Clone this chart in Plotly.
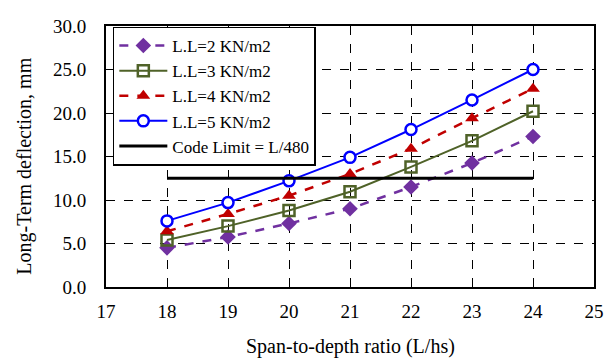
import plotly.graph_objects as go

span_ratio = [18, 19, 20, 21, 22, 23, 24]
ll2 = [4.5, 5.75, 7.3, 9.0, 11.5, 14.25, 17.3]
ll3 = [5.4, 7.0, 8.8, 10.95, 13.8, 16.8, 20.2]
ll4 = [6.4, 8.4, 10.5, 13.0, 15.9, 19.4, 22.8]
ll5 = [7.6, 9.7, 12.2, 14.9, 18.1, 21.5, 25.0]
code_x = [18, 24]
code_limit = [12.5, 12.5]
x_title = "Span-to-depth ratio (L/hs)"
y_title = "Long-Term deflection, mm"

FONT = "Liberation Serif, Times New Roman, serif"
fig = go.Figure()
fig.add_trace(go.Scatter(x=span_ratio, y=ll2, name="L.L=2 KN/m2", mode="lines+markers",
                         line=dict(color="#7030A0", width=2.5, dash="dash"),
                         marker=dict(symbol="diamond", size=12, color="#7030A0")))
fig.add_trace(go.Scatter(x=span_ratio, y=ll3, name="L.L=3 KN/m2", mode="lines+markers",
                         line=dict(color="#4F6228", width=2),
                         marker=dict(symbol="square-open", size=11, color="#4F6228", line=dict(width=2.5))))
fig.add_trace(go.Scatter(x=span_ratio, y=ll4, name="L.L=4 KN/m2", mode="lines+markers",
                         line=dict(color="#C00000", width=2.5, dash="dash"),
                         marker=dict(symbol="triangle-up", size=12, color="#C00000")))
fig.add_trace(go.Scatter(x=span_ratio, y=ll5, name="L.L=5 KN/m2", mode="lines+markers",
                         line=dict(color="#0000FF", width=2),
                         marker=dict(symbol="circle", size=11, color="white", line=dict(width=2.5, color="#0000FF"))))
fig.add_trace(go.Scatter(x=code_x, y=code_limit, name="Code Limit = L/480", mode="lines",
                         line=dict(color="black", width=3)))

fig.update_layout(
    width=604, height=354,
    margin=dict(l=98, r=11, t=8, b=75),
    paper_bgcolor="white", plot_bgcolor="white",
    font=dict(family=FONT, size=19, color="black"),
    legend=dict(x=0.014, y=0.998, xanchor="left", yanchor="top",
                bgcolor="white", bordercolor="black", borderwidth=1.5,
                font=dict(family=FONT, size=17), tracegroupgap=0, itemwidth=48),
    showlegend=True,
)
fig.add_annotation(text=x_title, xref="paper", yref="paper", x=0.5, y=0, yshift=-59,
                   xanchor="center", yanchor="middle", showarrow=False,
                   font=dict(family=FONT, size=20))
fig.add_annotation(text=y_title, xref="paper", yref="paper", x=0, y=0.461, xshift=-81,
                   xanchor="center", yanchor="middle", showarrow=False, textangle=-90,
                   font=dict(family=FONT, size=20))
fig.update_xaxes(range=[17, 25], dtick=1, tick0=17, showgrid=True, griddash="dash",
                 gridcolor="black", gridwidth=1, showline=True, linecolor="black", linewidth=2,
                 mirror=True, zeroline=False, ticks="", ticklen=0, ticklabelstandoff=6,
                 ticklabeloverflow="allow")
fig.update_yaxes(range=[0, 30], dtick=5, tickformat=".1f", showgrid=True, griddash="dash",
                 gridcolor="black", gridwidth=1, showline=True, linecolor="black", linewidth=2,
                 mirror=True, zeroline=False, ticks="", ticklen=0, ticklabelstandoff=14,
                 ticklabeloverflow="allow")

fig.write_html("out.html")
